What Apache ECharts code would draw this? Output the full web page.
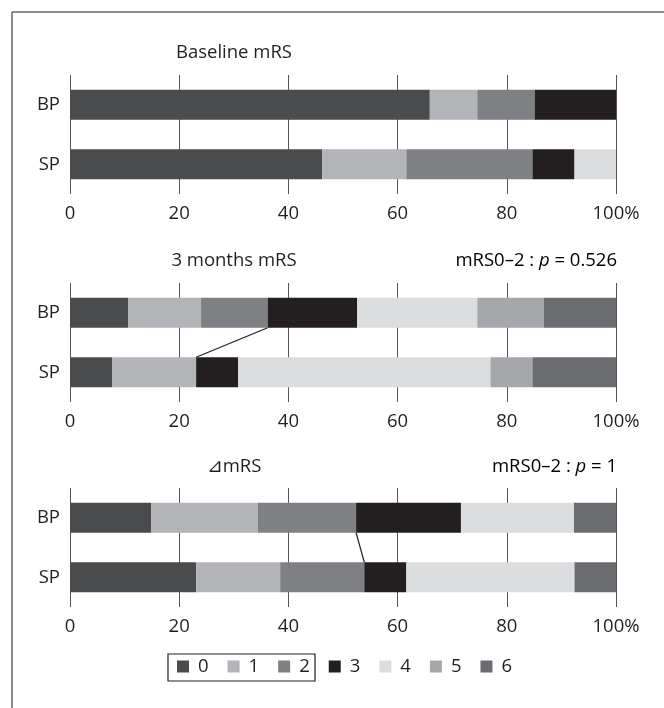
<!DOCTYPE html>
<html><head><meta charset="utf-8">
<script src="https://cdn.jsdelivr.net/npm/echarts@6/dist/echarts.min.js"></script>
<style>html,body{margin:0;padding:0;background:#fff}#c{width:664px;height:708px}</style>
</head><body><div id="c"></div>
<script>
// ---- data ----
const groups = ['BP', 'SP'];
const levels = ['0', '1', '2', '3', '4', '5', '6'];
const baselineBP = [65.9, 8.7, 10.5, 14.9, 0, 0, 0];
const baselineSP = [46.2, 15.4, 23.1, 7.7, 7.6, 0, 0];
const months3BP = [10.7, 13.3, 12.2, 16.4, 22.0, 12.2, 13.2];
const months3SP = [7.7, 15.4, 0, 7.7, 46.2, 7.7, 15.3];
const deltaBP = [14.9, 19.5, 18.0, 19.2, 20.7, 0, 7.7];
const deltaSP = [23.1, 15.4, 15.4, 7.7, 30.8, 0, 7.6];
const panelTitles = ['Baseline mRS', '3 months mRS', '\u22BFmRS'];
const pValues = [null, '0.526', '1'];
const xTicks = [0, 20, 40, 60, 80, 100];

// ---- style ----
const colors = ['#4a4b4d', '#b3b4b7', '#7f8083', '#231f20', '#dcdddf', '#a6a7aa', '#6b6c6f'];
const FONT = '"Open Sans", "Noto Sans", sans-serif';
const FS = 18.5;
const TXT = '#231f20';
const BAR_W = 30;
const gridTops = [75, 283, 488];
const GRID_H = 119;
const titleY = [53, 261, 467];

const panels = [[baselineBP, baselineSP], [months3BP, months3SP], [deltaBP, deltaSP]];

const grids = [], xAxes = [], yAxes = [], series = [], graphics = [];
panels.forEach((pd, i) => {
  grids.push({left: 70, width: 546, top: gridTops[i], height: GRID_H});
  xAxes.push({
    type: 'value', gridIndex: i, min: xTicks[0], max: xTicks[xTicks.length - 1], interval: 20,
    axisLine: {show: false}, axisTick: {show: false},
    splitLine: {show: true, lineStyle: {color: '#555', width: 1}},
    axisLabel: {margin: 10, fontSize: FS, fontFamily: FONT, color: TXT,
      formatter: v => v === 100 ? '100%' : String(v)}
  });
  yAxes.push({
    type: 'category', gridIndex: i, data: groups, inverse: true,
    axisLine: {show: false}, axisTick: {show: false},
    axisLabel: {margin: 10, fontSize: FS, fontFamily: FONT, color: TXT}
  });
  levels.forEach((lv, k) => {
    series.push({
      name: lv, type: 'bar', stack: 'p' + i, xAxisIndex: i, yAxisIndex: i,
      barWidth: BAR_W, itemStyle: {color: colors[k]},
      data: [pd[0][k], pd[1][k]], animation: false
    });
  });
  // connector between start of level 3 in BP and SP
  if (i > 0) {
    const startOf3 = arr => arr.slice(0, 3).reduce((a, b) => a + b, 0);
    series.push({
      type: 'custom', name: 'link', xAxisIndex: i, yAxisIndex: i, z: 5, animation: false,
      data: [[startOf3(pd[0]), 0, startOf3(pd[1]), 1]],
      encode: {x: [0, 2], y: [1, 3]},
      renderItem: (params, api) => {
        const p1 = api.coord([api.value(0), api.value(1)]);
        const p2 = api.coord([api.value(2), api.value(3)]);
        return {type: 'line', shape: {x1: p1[0], y1: p1[1] + BAR_W / 2, x2: p2[0], y2: p2[1] - BAR_W / 2},
          style: {stroke: '#231f20', lineWidth: 1.2}};
      }
    });
  }
  graphics.push({type: 'text', x: 234, y: titleY[i], style: {
    text: panelTitles[i], font: FS + 'px ' + FONT, fill: TXT, align: 'center', verticalAlign: 'middle'}});
  if (pValues[i]) {
    graphics.push({type: 'text', x: 617, y: titleY[i], style: {
      text: '{n|mRS0\u20132 : }{i|p}{n| = ' + pValues[i] + '}',
      align: 'right', verticalAlign: 'middle',
      rich: {n: {fontSize: FS, fontFamily: FONT, color: TXT},
             i: {fontSize: FS, fontFamily: FONT, fontStyle: 'italic', color: TXT}}}});
  }
});

// frame
graphics.push({type: 'line', shape: {x1: 12, y1: 12, x2: 664, y2: 12}, style: {stroke: '#666', lineWidth: 1.5}});
graphics.push({type: 'line', shape: {x1: 12, y1: 12, x2: 12, y2: 708}, style: {stroke: '#666', lineWidth: 1.5}});
// legend box round 0-2
graphics.push({type: 'rect', shape: {x: 168, y: 654, width: 147, height: 27}, style: {fill: 'none', stroke: '#231f20', lineWidth: 1.2}});

const chart = echarts.init(document.getElementById('c'), null, {renderer: 'canvas'});
chart.setOption({
  animation: false,
  grid: grids, xAxis: xAxes, yAxis: yAxes, series: series,
  legend: {data: levels, left: 177, top: 657, padding: 0, itemWidth: 12, itemHeight: 12, itemGap: 19,
    icon: 'rect', selectedMode: false,
    textStyle: {fontSize: FS, fontFamily: FONT, color: TXT, padding: [0, 0, 0, 4]}},
  graphic: graphics
});
</script></body></html>
